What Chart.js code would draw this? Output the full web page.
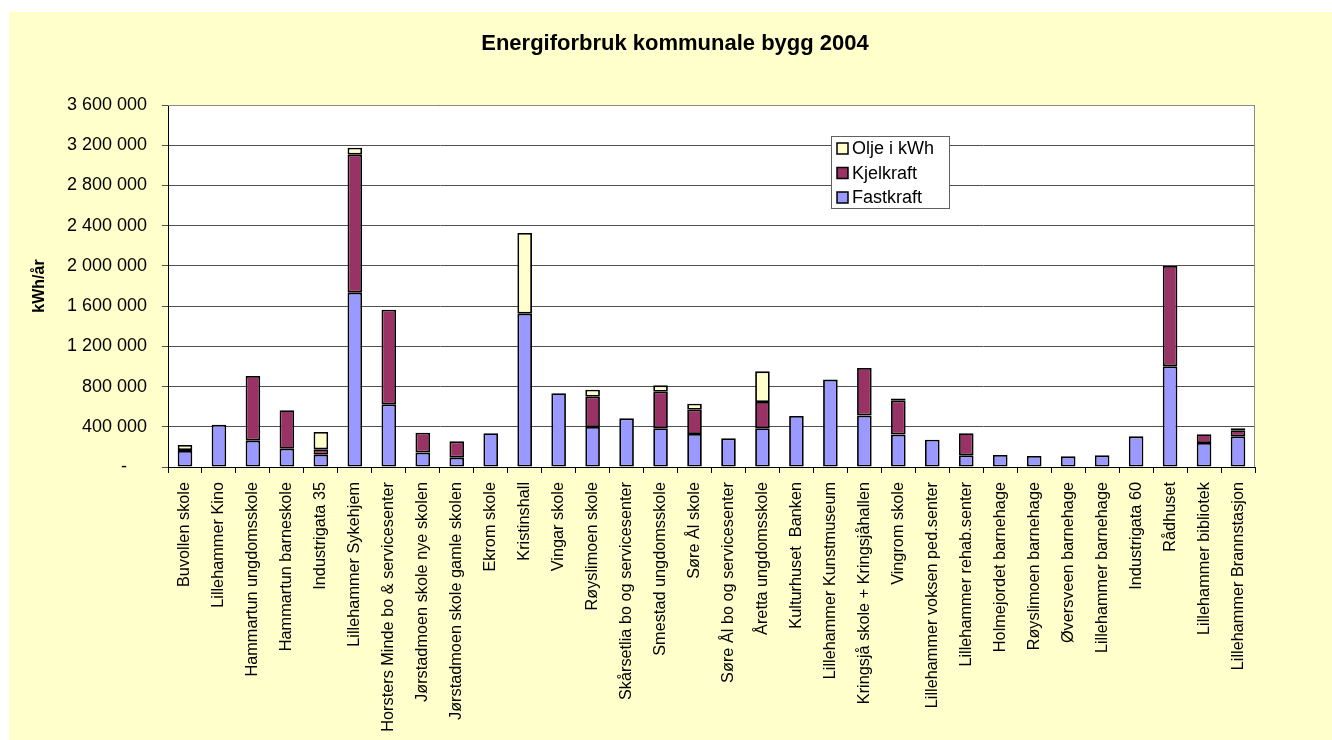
<!DOCTYPE html>
<html>
<head>
<meta charset="utf-8">
<script src="https://cdn.jsdelivr.net/npm/chart.js@4"></script>
<style>
  html, body { margin: 0; padding: 0; background: #ffffff; }
  #wrap { position: absolute; left: 9px; top: 12px; width: 1323px; height: 728px; background: #FFFFCC; }
  canvas { display: block; }
</style>
</head>
<body>
<div id="wrap"><canvas id="c" width="1323" height="728"></canvas></div>
<script>
const categories = [
  "Buvollen skole", "Lillehammer Kino", "Hammartun ungdomsskole", "Hammartun barneskole",
  "Industrigata 35", "Lillehammer Sykehjem", "Horsters Minde bo & servicesenter",
  "Jørstadmoen skole nye skolen", "Jørstadmoen skole gamle skolen", "Ekrom skole",
  "Kristinshall", "Vingar skole", "Røyslimoen skole", "Skårsetlia bo og servicesenter",
  "Smestad ungdomsskole", "Søre Ål skole", "Søre Ål bo og servicesenter", "Åretta ungdomsskole",
  "Kulturhuset  Banken", "Lillehammer Kunstmuseum", "Kringsjå skole + Kringsjåhallen",
  "Vingrom skole", "Lillehammer voksen ped.senter", "Lillehammer rehab.senter",
  "Holmejordet barnehage", "Røyslimoen barnehage", "Øversveen barnehage",
  "Lillehammer barnehage", "Industrigata 60", "Rådhuset", "Lillehammer bibliotek",
  "Lillehammer Brannstasjon"
];
const fastkraft = [
  159000, 421000, 262000, 182000, 123000, 1734000, 623000, 143000, 93000, 335000,
  1525000, 733000, 398000, 484000, 385000, 328000, 285000, 385000, 507000, 869000,
  511000, 322000, 272000, 116000, 119000, 109000, 106000, 116000, 305000, 1001000,
  239000, 305000
];
const kjelkraft = [
  10000, 0, 643000, 382000, 53000, 1372000, 942000, 198000, 162000, 0,
  0, 0, 301000, 0, 364000, 242000, 0, 261000, 0, 0,
  474000, 341000, 0, 219000, 0, 0, 0, 0, 0, 998000,
  86000, 60000
];
const olje = [
  50000, 0, 0, 0, 172000, 70000, 0, 0, 0, 0,
  802000, 0, 70000, 0, 63000, 60000, 0, 305000, 0, 0,
  0, 17000, 0, 0, 0, 0, 0, 0, 0, 0,
  0, 20000
];
const yTicks = [0, 400000, 800000, 1200000, 1600000, 2000000, 2400000, 2800000, 3200000, 3600000];

const FONT = "'Liberation Sans', Arial, sans-serif";

function fmt(v) {
  if (v === 0) return '-    ';
  return String(v).replace(/\B(?=(\d{3})+(?!\d))/g, ' ');
}

const plotBg = {
  id: 'plotBg',
  beforeDraw(chart) {
    const { ctx, chartArea: a } = chart;
    ctx.save();
    ctx.fillStyle = '#ffffff';
    ctx.fillRect(a.left, a.top, a.right - a.left, a.bottom - a.top);
    ctx.restore();
  },
  afterDatasetsDraw(chart) {
    const { ctx, chartArea: a } = chart;
    ctx.save();
    ctx.strokeStyle = '#8c8c8c';
    ctx.lineWidth = 1;
    ctx.beginPath();
    ctx.moveTo(a.left, a.top + 0.5);
    ctx.lineTo(a.right - 0.5, a.top + 0.5);
    ctx.lineTo(a.right - 0.5, a.bottom);
    ctx.stroke();
    ctx.restore();
  }
};

const boxLegend = {
  id: 'boxLegend',
  afterDraw(chart) {
    const { ctx, chartArea: a } = chart;
    const x0 = a.left + 663, y0 = a.top + 31, w = 119, h = 73;
    ctx.save();
    ctx.fillStyle = '#ffffff';
    ctx.fillRect(x0, y0, w, h);
    ctx.strokeStyle = '#606060';
    ctx.lineWidth = 1;
    ctx.strokeRect(x0 + 0.5, y0 + 0.5, w - 1, h - 1);
    const items = chart.data.datasets.filter(d => d.label).slice().reverse();
    ctx.font = '18px ' + FONT;
    ctx.textBaseline = 'middle';
    ctx.textAlign = 'left';
    items.forEach((ds, i) => {
      const cy = y0 + 12.5 + i * 24.5;
      ctx.fillStyle = ds.backgroundColor;
      ctx.fillRect(x0 + 6, cy - 5.5, 11, 11);
      ctx.strokeStyle = '#000';
      ctx.lineWidth = 1.5;
      ctx.strokeRect(x0 + 6, cy - 5.5, 11, 11);
      ctx.fillStyle = '#000';
      ctx.fillText(ds.label, x0 + 21, cy + 1);
    });
    ctx.restore();
  }
};

new Chart(document.getElementById('c'), {
  type: 'bar',
  data: {
    labels: categories,
    datasets: [
      { label: 'Fastkraft', data: fastkraft, backgroundColor: '#9999FF' },
      { label: 'Kjelkraft', data: kjelkraft, backgroundColor: '#993366' },
      { label: 'Olje i kWh', data: olje, backgroundColor: '#FFFFCC' }
    ].map(d => Object.assign(d, {
      borderColor: '#000000', borderWidth: 1.8, borderSkipped: false,
      categoryPercentage: 1.0, barPercentage: 0.43
    }))
  },
  options: {
    responsive: false,
    animation: false,
    devicePixelRatio: 1,
    layout: { padding: { left: 9, right: 0, top: 0, bottom: 0 } },
    plugins: {
      legend: { display: false },
      tooltip: { enabled: false },
      title: {
        display: true,
        text: 'Energiforbruk kommunale bygg 2004',
        color: '#000',
        font: { family: FONT, size: 22, weight: 'bold', lineHeight: 1.2 },
        padding: { top: 19, bottom: 47.6 }
      }
    },
    scales: {
      x: {
        stacked: true,
        grid: { drawOnChartArea: false, drawTicks: true, tickLength: 6, offset: true, color: '#000' },
        border: { color: '#000', width: 1 },
        ticks: {
          autoSkip: false, minRotation: 90, maxRotation: 90, padding: 9,
          color: '#000', font: { family: FONT, size: 16.3 }
        },
        afterFit(s) { s.height = 273; }
      },
      y: {
        stacked: true,
        min: 0, max: 3600000,
        afterBuildTicks(s) { s.ticks = yTicks.map(v => ({ value: v })); },
        grid: { color: '#505050', lineWidth: 1, tickLength: 6, drawTicks: true },
        border: { color: '#000', width: 1 },
        ticks: {
          padding: 15, color: '#000', font: { family: FONT, size: 18 },
          callback: (v) => fmt(v)
        },
        title: {
          display: true, text: 'kWh/år', color: '#000',
          font: { family: FONT, size: 16, weight: 'bold', lineHeight: 1.2 },
          padding: { top: 12, bottom: 0 }
        },
        afterFit(s) { s.width = 150; }
      },
      yRight: {
        type: 'linear',
        position: 'right',
        display: true,
        grid: { display: false, drawTicks: false },
        border: { display: false },
        ticks: { display: false },
        afterFit(s) { s.width = 77; }
      }
    }
  },
  plugins: [plotBg, boxLegend]
});
</script>
</body>
</html>
